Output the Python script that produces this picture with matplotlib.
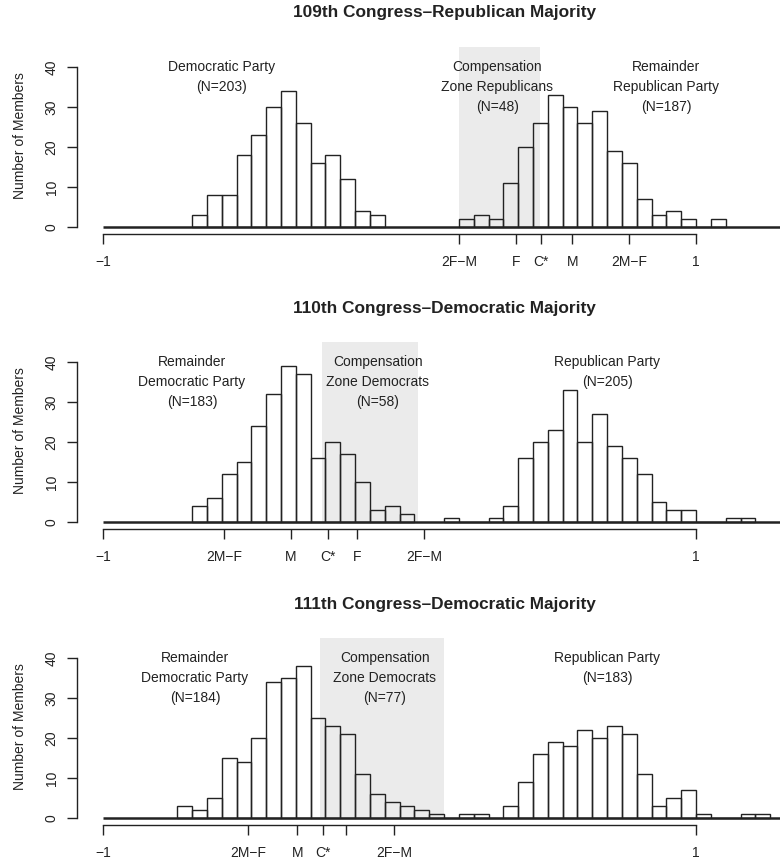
import numpy as np
import matplotlib
matplotlib.use('Agg')
import matplotlib.pyplot as plt

plt.rcParams['font.family'] = ['Liberation Sans', 'DejaVu Sans']

# bin width of all histograms (ideal points)
bin_width = 0.05

titles = ['109th Congress\u2013Republican Majority',
          '110th Congress\u2013Democratic Majority',
          '111th Congress\u2013Democratic Majority']

# 109th Congress
dem109_start = -0.70
dem109_counts = [3, 8, 8, 18, 23, 30, 34, 26, 16, 18, 12, 4, 3]
rep109_start = 0.20
rep109_counts = [2, 3, 2, 11, 20, 26, 33, 30, 26, 29, 19, 16, 7, 3, 4, 2, 0, 2]

# 110th Congress
dem110_start = -0.70
dem110_counts = [4, 6, 12, 15, 24, 32, 39, 37, 16, 20, 17, 10, 3, 4, 2]
rep110_start = 0.15
rep110_counts = [1, 0, 0, 1, 4, 16, 20, 23, 33, 20, 27, 19, 16, 12, 5, 3, 3, 0, 0, 1, 1]

# 111th Congress
dem111_start = -0.75
dem111_counts = [3, 2, 5, 15, 14, 20, 34, 35, 38, 25, 23, 21, 11, 6, 4, 3, 2]
rep111_start = 0.10
rep111_counts = [1, 0, 1, 1, 0, 3, 9, 16, 19, 18, 22, 20, 23, 21, 11, 3, 5, 7, 1, 0, 0, 1, 1]

# compensation zones
zone109 = (0.201, 0.475)
zone110 = (-0.262, 0.061)
zone111 = (-0.268, 0.151)

# x tick positions and labels
ticks109 = [-1, 0.20, 0.392, 0.477, 0.583, 0.774, 1]
labels109 = ['\u22121', '2F\u2212M', 'F', 'C*', 'M', '2M\u2212F', '1']
ticks110 = [-1, -0.592, -0.366, -0.242, -0.143, 0.082, 1]
labels110 = ['\u22121', '2M\u2212F', 'M', 'C*', 'F', '2F\u2212M', '1']
ticks111 = [-1, -0.510, -0.345, -0.257, -0.180, -0.0175, 1]
labels111 = ['\u22121', '2M\u2212F', 'M', 'C*', '', '2F\u2212M', '1']

# group labels: (x, lines)
notes109 = [(-0.60, ['Democratic Party', '(N=203)']),
            (0.33, ['Compensation', 'Zone Republicans', '(N=48)']),
            (0.90, ['Remainder', 'Republican Party', '(N=187)'])]
notes110 = [(-0.70, ['Remainder', 'Democratic Party', '(N=183)']),
            (-0.074, ['Compensation', 'Zone Democrats', '(N=58)']),
            (0.70, ['Republican Party', '(N=205)'])]
notes111 = [(-0.69, ['Remainder', 'Democratic Party', '(N=184)']),
            (-0.05, ['Compensation', 'Zone Democrats', '(N=77)']),
            (0.70, ['Republican Party', '(N=183)'])]

panels = [
    (dem109_start, dem109_counts, rep109_start, rep109_counts, zone109, ticks109, labels109, notes109),
    (dem110_start, dem110_counts, rep110_start, rep110_counts, zone110, ticks110, labels110, notes110),
    (dem111_start, dem111_counts, rep111_start, rep111_counts, zone111, ticks111, labels111, notes111),
]

W, H = 780, 860
fig = plt.figure(figsize=(W / 100, H / 100), dpi=100)

ink = '#222222'
zero_px = [227, 522, 818]   # pixel row of count 0 in each panel
title_px = [13, 309, 605]
px_per_unit = 4.0
ylo, yhi = -1.85, 45.5
xlo, xhi = -1.089, 1.283
left_px = 76.7

for i, (ds, dc, rs, rc, zone, ticks, tlabels, notes) in enumerate(panels):
    top_px = zero_px[i] - yhi * px_per_unit
    bot_px = zero_px[i] - ylo * px_per_unit
    ax = fig.add_axes([left_px / W, 1 - bot_px / H, (W - left_px) / W, (bot_px - top_px) / H])
    ax.set_xlim(xlo, xhi)
    ax.set_ylim(ylo, yhi)

    # shaded compensation zone
    ax.fill_between(list(zone), 0, 45, color='#ebebeb', lw=0, zorder=0)

    # baseline of the histograms
    ax.hlines(0, -1, 1.5, color=ink, lw=1.8, zorder=3)

    for start, counts in [(ds, dc), (rs, rc)]:
        lefts = start + bin_width * np.arange(len(counts))
        ax.bar(lefts, counts, width=bin_width, align='edge', fill=False,
               edgecolor=ink, linewidth=1.0, zorder=2)

    for x, lines in notes:
        for k, line in enumerate(lines):
            ax.text(x, 40 - 5 * k, line, ha='center', va='center', fontsize=10, color=ink)

    for side in ['top', 'right']:
        ax.spines[side].set_visible(False)
    ax.spines['left'].set_bounds(0, 40)
    ax.spines['bottom'].set_bounds(-1, 1)
    for side in ['left', 'bottom']:
        ax.spines[side].set_color(ink)
        ax.spines[side].set_linewidth(1.0)

    ax.set_yticks([0, 10, 20, 30, 40])
    ax.set_yticklabels(['0', '10', '20', '30', '40'], rotation=90, va='center')
    ax.set_xticks(ticks)
    ax.set_xticklabels(tlabels)
    ax.tick_params(axis='both', direction='out', length=7, width=1.0, color=ink,
                   labelsize=10, labelcolor=ink)
    ax.tick_params(axis='x', pad=7.5)
    ax.tick_params(axis='y', pad=6)

    ax.set_ylabel('Number of Members', fontsize=10, color=ink)
    ax.yaxis.set_label_coords(-0.071, 0.52)

    fig.text(444.5 / W, 1 - title_px[i] / H, titles[i], ha='center', va='center',
             fontsize=12.4, fontweight='bold', color=ink)

fig.savefig('out.png', dpi=100)
